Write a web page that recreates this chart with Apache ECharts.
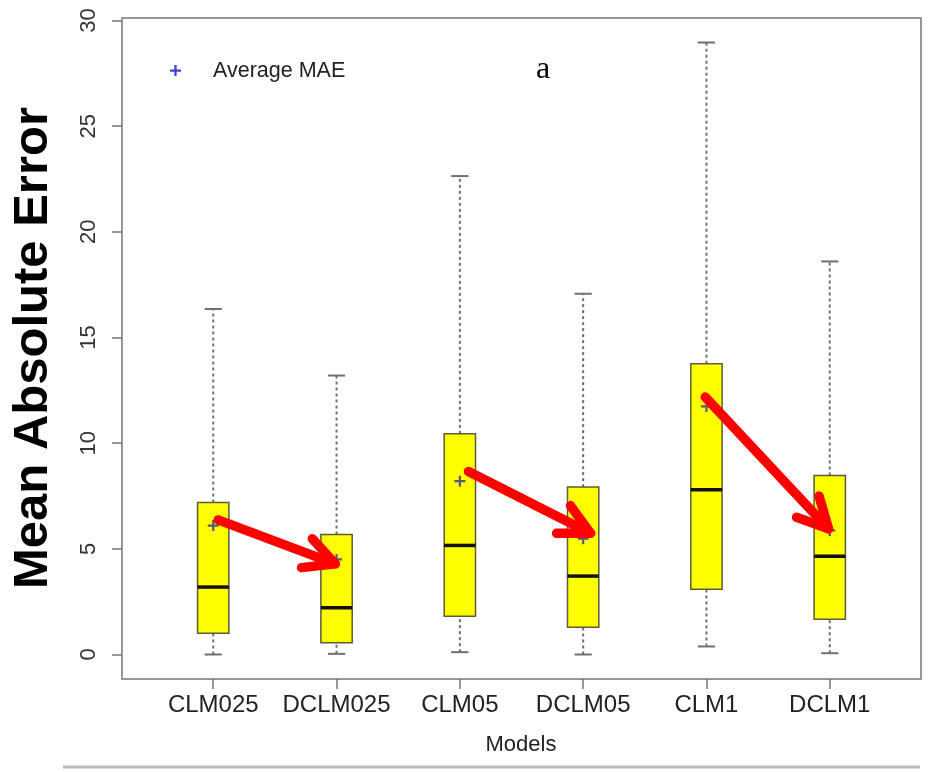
<!DOCTYPE html>
<html>
<head>
<meta charset="utf-8">
<script src="https://cdn.jsdelivr.net/npm/echarts@6/dist/echarts.min.js"></script>
<style>
  html, body { margin: 0; padding: 0; background: #fff; }
  #main { width: 933px; height: 772px; }
</style>
</head>
<body>
<div id="main"></div>
<script>
// values
const categories = ['CLM025', 'DCLM025', 'CLM05', 'DCLM05', 'CLM1', 'DCLM1'];
const whiskerLow = [0, 0.03, 0.11, 0, 0.38, 0.06];
const q1 = [1.01, 0.55, 1.81, 1.29, 3.09, 1.67];
const medians = [3.19, 2.21, 5.16, 3.71, 7.79, 4.65];
const q3 = [7.19, 5.68, 10.44, 7.92, 13.76, 8.47];
const whiskerHigh = [16.35, 13.2, 22.64, 17.07, 28.96, 18.6];
const meanMAE = [6.1, 4.5, 8.2, 5.48, 11.74, 5.87];
// red arrows (x = model position, y = MAE)
const arrowFrom = [[1.04, 6.37], [3.07, 8.66], [4.99, 12.18]];
const arrowTo = [[1.99, 4.29], [4.06, 5.74], [5.99, 5.95]];
const yTicks = [0, 5, 10, 15, 20, 25, 30];
const xTicks = [1, 2, 3, 4, 5, 6];

const plusPath = 'path://M4,0H6V4H10V6H6V10H4V6H0V4H4Z';
let myChart = echarts.init(document.getElementById('main'));

function renderBox(params, api) {
    let x = api.value(0);
    let half = 0.127, cap = 0.07;
    let lw = api.coord([x, api.value(1)]);
    let lo = api.coord([x, api.value(2)]);
    let md = api.coord([x, api.value(3)]);
    let hi = api.coord([x, api.value(4)]);
    let uw = api.coord([x, api.value(5)]);
    let bl = api.coord([x - half, api.value(4)]);
    let br = api.coord([x + half, api.value(2)]);
    let cl = api.coord([x - cap, 0])[0], cr = api.coord([x + cap, 0])[0];
    let dash = {stroke: '#707070', lineWidth: 2, lineDash: [3, 3]};
    let solid = {stroke: '#707070', lineWidth: 2};
    return {
        type: 'group',
        children: [
            {type: 'line', shape: {x1: lw[0], y1: lw[1], x2: lo[0], y2: lo[1]}, style: dash},
            {type: 'line', shape: {x1: hi[0], y1: hi[1], x2: uw[0], y2: uw[1]}, style: dash},
            {type: 'line', shape: {x1: cl, y1: lw[1], x2: cr, y2: lw[1]}, style: solid},
            {type: 'line', shape: {x1: cl, y1: uw[1], x2: cr, y2: uw[1]}, style: solid},
            {type: 'rect', shape: {x: bl[0], y: bl[1], width: br[0] - bl[0], height: br[1] - bl[1]},
                style: {fill: '#ffff00', stroke: '#5c5c3a', lineWidth: 1.5}},
            {type: 'line', shape: {x1: bl[0], y1: md[1], x2: br[0], y2: md[1]},
                style: {stroke: '#111', lineWidth: 3.5}}
        ]
    };
}

function renderArrow(params, api) {
    let a = api.coord([api.value(0), api.value(1)]);
    let b = api.coord([api.value(2), api.value(3)]);
    let ang = Math.atan2(b[1] - a[1], b[0] - a[0]);
    let len = 34, spread = 27 * Math.PI / 180;
    let h1 = [b[0] - len * Math.cos(ang - spread), b[1] - len * Math.sin(ang - spread)];
    let h2 = [b[0] - len * Math.cos(ang + spread), b[1] - len * Math.sin(ang + spread)];
    let st = {stroke: '#ff0000', lineWidth: 9.5, lineCap: 'round', lineJoin: 'round', fill: null};
    return {
        type: 'group',
        children: [
            {type: 'line', shape: {x1: a[0], y1: a[1], x2: b[0], y2: b[1]}, style: st},
            {type: 'polyline', shape: {points: [h1, b, h2]}, style: st}
        ]
    };
}

let boxData = categories.map((c, i) => [i + 1, whiskerLow[i], q1[i], medians[i], q3[i], whiskerHigh[i]]);
let meanData = categories.map((c, i) => [i + 1, meanMAE[i]]);
let arrowData = arrowFrom.map((f, i) => [f[0], f[1], arrowTo[i][0], arrowTo[i][1]]);

let option = {
    backgroundColor: '#fff',
    animation: false,
    textStyle: {fontFamily: 'Liberation Sans'},
    grid: {
        left: 122, right: 12, top: 18, bottom: 93,
        show: true, borderColor: '#777', borderWidth: 1.5,
        outerBoundsMode: 'none'
    },
    xAxis: {
        type: 'value', min: 0.26, max: 6.74,
        splitLine: {show: false},
        axisLine: {show: false, onZero: false},
        axisTick: {show: true, length: 10, customValues: xTicks, lineStyle: {color: '#777', width: 1.5}},
        axisLabel: {
            customValues: xTicks, margin: 14, fontSize: 24, color: '#222',
            formatter: v => categories[Math.round(v) - 1]
        }
    },
    yAxis: {
        type: 'value', min: -1.16, max: 30.12,
        splitLine: {show: false},
        axisLine: {show: false, onZero: false},
        axisTick: {show: true, length: 10, customValues: yTicks, lineStyle: {color: '#777', width: 1.5}},
        axisLabel: {customValues: yTicks, rotate: 90, margin: 22, fontSize: 22, color: '#333'}
    },
    graphic: [
        {type: 'text', x: 33, y: 348, rotation: Math.PI / 2,
            style: {text: 'Mean Absolute Error', fontSize: 49, fontWeight: 'bold', fontFamily: 'Liberation Sans',
                fill: '#000', align: 'center', verticalAlign: 'middle'}},
        {type: 'text', x: 521, y: 745,
            style: {text: 'Models', fontSize: 22, fontFamily: 'Liberation Sans', fill: '#222',
                align: 'center', verticalAlign: 'middle'}},
        {type: 'rect', shape: {x: 170, y: 69.5, width: 11, height: 2.2}, style: {fill: '#3b3bd6'}},
        {type: 'rect', shape: {x: 174.4, y: 65, width: 2.2, height: 11}, style: {fill: '#3b3bd6'}},
        {type: 'text', x: 213, y: 71,
            style: {text: 'Average MAE', fontSize: 21.5, fontFamily: 'Liberation Sans', fill: '#222',
                align: 'left', verticalAlign: 'middle'}},
        {type: 'text', x: 543, y: 70,
            style: {text: 'a', fontSize: 32, fontFamily: 'Liberation Serif', fill: '#000',
                align: 'center', verticalAlign: 'middle'}},
        {type: 'line', shape: {x1: 63, y1: 767, x2: 920, y2: 767},
            style: {stroke: '#bbb', lineWidth: 3}}
    ],
    series: [
        {
            type: 'custom', name: 'boxes', renderItem: renderBox,
            encode: {x: 0, y: [1, 2, 3, 4, 5]}, data: boxData, z: 2
        },
        {
            type: 'scatter', name: 'Average MAE', data: meanData,
            symbol: plusPath, symbolSize: 11, itemStyle: {color: '#2e2e9e'}, z: 3
        },
        {
            type: 'custom', name: 'arrows', renderItem: renderArrow,
            encode: {x: [0, 2], y: [1, 3]}, data: arrowData, z: 4
        }
    ]
};
myChart.setOption(option);
</script>
</body>
</html>
